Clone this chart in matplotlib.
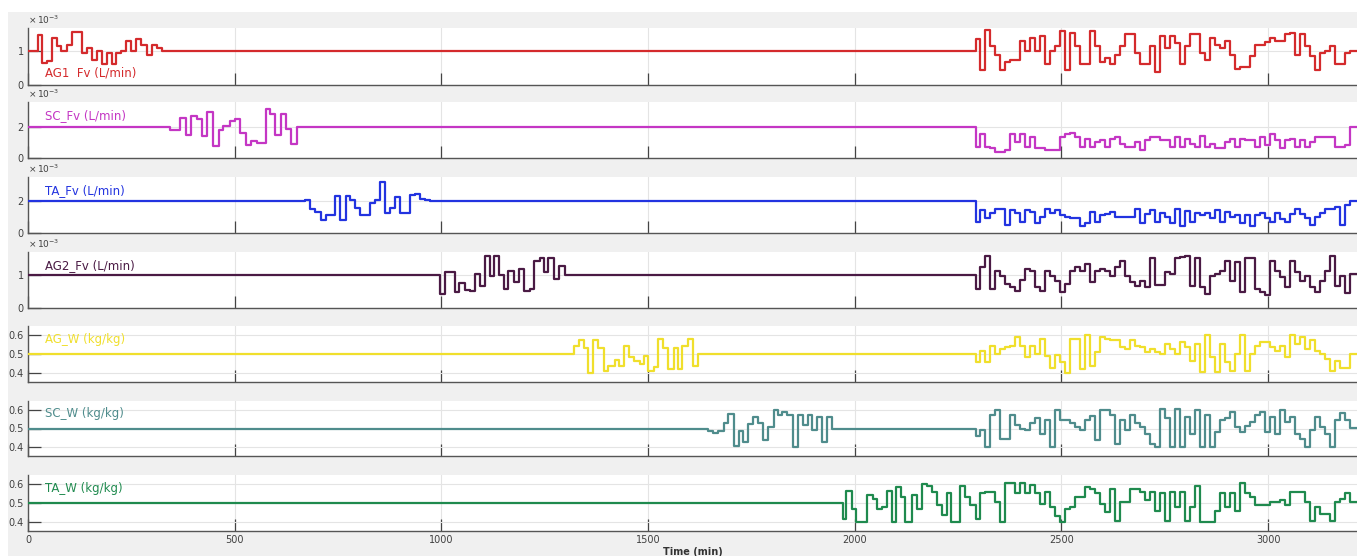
import matplotlib
matplotlib.use("Agg")
import matplotlib.pyplot as plt
from matplotlib.patches import Rectangle

# ---------------- data ----------------
T_END = 3215
x_ticks = [0, 500, 1000, 1500, 2000, 2500, 3000]

# shared switching times of the final perturbation window (min)
G2 = [2293, 2303, 2315, 2327, 2339, 2351, 2363, 2375, 2388, 2400, 2412, 2424, 2436,
      2448, 2460, 2472, 2484, 2496, 2509, 2521, 2533, 2545, 2557, 2569, 2581, 2593,
      2605, 2617, 2630, 2642, 2654, 2666, 2678, 2690, 2702, 2714, 2726, 2738, 2751,
      2763, 2775, 2787, 2799, 2811, 2823, 2835, 2847, 2859, 2871, 2884, 2896, 2908,
      2920, 2932, 2944, 2956, 2968, 2980, 2992, 3005, 3017, 3029, 3041, 3053, 3065,
      3077, 3089, 3101, 3113, 3126, 3138, 3150, 3162, 3174, 3186, 3198]

# AG1 Fv (x1e-3 L/min)
ag1_nom = 1.0
ag1_t1 = [23, 34, 46, 58, 69, 81, 94, 106, 130, 142, 154, 166, 178, 190, 202, 214,
          226, 238, 250, 262, 274, 287, 299, 311, 323]
ag1_v1 = [1.48, 0.67, 0.72, 1.41, 1.15, 1.0, 1.2, 1.59, 0.95, 1.1, 0.74, 1.0, 0.64,
          0.95, 0.62, 0.95, 1.0, 1.3, 1.0, 1.38, 1.2, 0.88, 1.2, 1.1, 1.0]
ag1_v2 = [1.38, 0.46, 1.64, 1.15, 0.90, 0.44, 0.69, 0.74, 0.74, 1.31, 1.0, 1.41, 1.0,
          1.46, 0.64, 1.0, 1.15, 1.61, 0.44, 1.56, 1.15, 0.64, 0.64, 1.61, 1.15, 0.69,
          0.8, 0.64, 0.9, 1.15, 1.51, 1.51, 0.95, 0.64, 0.64, 1.15, 0.39, 1.46, 1.1,
          1.46, 1.26, 0.64, 1.15, 1.51, 1.51, 0.95, 0.74, 1.41, 1.2, 1.1, 1.31, 0.9,
          0.49, 0.54, 0.54, 0.85, 1.2, 1.2, 1.28, 1.41, 1.31, 1.31, 1.51, 1.56, 0.9,
          1.51, 1.15, 0.85, 0.46, 0.95, 1.0, 1.15, 0.64, 0.62, 0.95, 1.0]

# SC Fv (x1e-3 L/min)
sc_nom = 2.0
sc_t1 = [344, 368, 382, 394, 408, 420, 432, 448, 461, 471, 489, 501, 513, 527, 539,
         553, 575, 586, 598, 613, 624, 637, 650]
sc_v1 = [1.83, 2.6, 1.47, 2.7, 2.5, 1.4, 2.95, 0.75, 1.8, 2.05, 2.4, 2.5, 1.6, 0.85,
         1.1, 0.95, 3.15, 2.8, 1.45, 2.8, 1.85, 0.9, 2.0]
sc_v2 = [0.72, 1.55, 0.72, 0.62, 0.41, 0.41, 0.52, 1.55, 1.03, 1.55, 0.72, 1.34, 0.62,
         0.62, 0.52, 0.52, 0.52, 1.34, 1.55, 1.59, 1.34, 0.72, 1.24, 0.72, 1.03, 1.13,
         0.72, 1.24, 1.34, 0.93, 0.72, 0.72, 1.03, 0.52, 1.13, 1.34, 1.34, 1.13, 1.13,
         0.72, 1.34, 0.72, 1.24, 0.93, 0.72, 1.44, 0.72, 0.93, 0.62, 0.62, 1.03, 1.24,
         0.72, 1.24, 1.13, 1.13, 0.72, 1.34, 0.82, 1.55, 1.13, 0.62, 1.13, 1.24, 0.72,
         1.13, 0.72, 1.03, 1.38, 1.38, 1.38, 1.38, 0.72, 0.72, 0.82, 2.0]

# TA Fv (x1e-3 L/min)
ta_nom = 2.0
ta_t1 = [670, 682, 694, 709, 721, 743, 755, 769, 779, 791, 803, 827, 839, 852, 864,
         876, 888, 900, 924, 936, 948, 960, 973]
ta_v1 = [2.08, 1.47, 1.33, 0.84, 1.12, 2.32, 0.84, 2.32, 2.06, 1.54, 1.12, 1.9, 2.06,
         3.16, 1.22, 1.54, 2.23, 1.26, 2.38, 2.44, 2.1, 2.06, 2.0]
ta_v2 = [0.71, 1.43, 0.92, 1.22, 1.47, 1.53, 0.51, 1.43, 1.22, 0.71, 1.43, 1.33, 0.61,
         1.02, 1.47, 1.27, 1.43, 1.12, 1.02, 0.92, 0.92, 0.45, 0.65, 1.33, 0.71, 1.12,
         1.18, 1.33, 0.98, 0.98, 0.98, 0.98, 1.53, 0.61, 1.18, 1.43, 0.71, 1.27, 0.98,
         0.61, 1.53, 0.45, 1.39, 0.71, 1.22, 1.12, 1.22, 0.92, 1.43, 0.71, 1.33, 1.02,
         1.12, 0.61, 1.12, 0.41, 1.12, 1.22, 0.92, 0.71, 1.22, 0.86, 0.71, 1.18, 1.53,
         1.18, 0.92, 0.51, 1.02, 1.22, 1.47, 1.53, 1.63, 0.51, 1.73, 2.0]

# AG2 Fv (x1e-3 L/min)
ag2_nom = 1.0
ag2_t1 = [996, 1009, 1019, 1033, 1043, 1056, 1069, 1082, 1093, 1105, 1117, 1128, 1140,
          1151, 1162, 1175, 1188, 1201, 1214, 1225, 1238, 1249, 1259, 1272, 1285, 1298]
ag2_v1 = [0.43, 1.08, 1.1, 0.48, 0.75, 0.55, 0.51, 1.03, 0.68, 1.58, 0.98, 1.58, 1.0,
          0.58, 1.13, 0.78, 1.18, 0.53, 0.58, 1.43, 1.53, 1.08, 1.53, 0.88, 1.28, 1.0]
ag2_v2 = [0.58, 1.25, 1.58, 0.58, 1.13, 0.98, 0.73, 0.65, 0.53, 0.85, 1.18, 1.13, 0.63,
          0.53, 1.13, 0.98, 0.83, 0.48, 0.73, 1.13, 1.25, 1.13, 1.33, 0.78, 1.13, 1.18,
          1.13, 0.98, 1.25, 1.43, 0.98, 0.78, 0.68, 0.83, 0.65, 1.53, 0.71, 0.71, 1.08,
          1.03, 1.53, 1.55, 1.58, 0.68, 1.53, 0.65, 0.43, 0.98, 1.03, 1.13, 1.43, 0.81,
          1.41, 0.48, 1.53, 1.53, 0.58, 0.48, 0.38, 1.43, 1.13, 0.93, 0.65, 1.43, 1.08,
          0.81, 0.98, 0.63, 0.48, 0.83, 1.13, 1.58, 0.68, 0.98, 0.45, 1.03]

# AG W (kg/kg)
agw_nom = 0.5
agw_t1 = [1320, 1333, 1346, 1354, 1367, 1378, 1393, 1404, 1419, 1430, 1442, 1454, 1467,
          1480, 1491, 1501, 1514, 1525, 1537, 1549, 1562, 1572, 1583, 1596, 1609, 1622]
agw_v1 = [0.542, 0.571, 0.53, 0.40, 0.571, 0.53, 0.41, 0.436, 0.47, 0.44, 0.539, 0.486,
          0.465, 0.447, 0.49, 0.41, 0.433, 0.58, 0.53, 0.424, 0.53, 0.424, 0.542, 0.58,
          0.44, 0.5]
agw_v2 = [0.456, 0.514, 0.456, 0.544, 0.5, 0.527, 0.535, 0.544, 0.588, 0.544, 0.482,
          0.544, 0.5, 0.58, 0.491, 0.429, 0.496, 0.456, 0.403, 0.58, 0.58, 0.42, 0.597,
          0.438, 0.509, 0.588, 0.58, 0.571, 0.571, 0.535, 0.527, 0.574, 0.544, 0.535,
          0.509, 0.527, 0.509, 0.5, 0.553, 0.527, 0.5, 0.562, 0.535, 0.465, 0.553, 0.408,
          0.597, 0.482, 0.408, 0.553, 0.456, 0.412, 0.5, 0.597, 0.412, 0.5, 0.544, 0.562,
          0.562, 0.535, 0.518, 0.544, 0.482, 0.597, 0.553, 0.588, 0.527, 0.571, 0.518,
          0.5, 0.473, 0.412, 0.465, 0.429, 0.429, 0.5]

# SC W (kg/kg)
scw_nom = 0.5
scw_t1 = [1644, 1657, 1670, 1683, 1693, 1707, 1719, 1730, 1741, 1753, 1765, 1778, 1791,
          1804, 1814, 1825, 1836, 1851, 1862, 1874, 1886, 1897, 1909, 1920, 1933, 1946]
scw_v1 = [0.488, 0.474, 0.488, 0.53, 0.579, 0.407, 0.488, 0.43, 0.526, 0.561, 0.53,
          0.439, 0.509, 0.6, 0.57, 0.588, 0.57, 0.404, 0.57, 0.518, 0.57, 0.491, 0.561,
          0.43, 0.561, 0.5]
scw_v2 = [0.459, 0.491, 0.405, 0.571, 0.595, 0.446, 0.446, 0.571, 0.518, 0.5, 0.491,
          0.527, 0.554, 0.473, 0.545, 0.405, 0.595, 0.545, 0.545, 0.527, 0.509, 0.491,
          0.545, 0.566, 0.438, 0.595, 0.595, 0.571, 0.416, 0.545, 0.491, 0.571, 0.527,
          0.509, 0.473, 0.42, 0.402, 0.602, 0.554, 0.405, 0.602, 0.405, 0.562, 0.473,
          0.595, 0.405, 0.571, 0.405, 0.482, 0.545, 0.554, 0.589, 0.509, 0.482, 0.513,
          0.536, 0.571, 0.589, 0.482, 0.562, 0.473, 0.598, 0.536, 0.559, 0.473, 0.446,
          0.405, 0.491, 0.562, 0.509, 0.473, 0.405, 0.545, 0.58, 0.545, 0.505]

# TA W (kg/kg)
taw_nom = 0.5
taw_t1 = [1972, 1980, 1993, 2003, 2030, 2045, 2053, 2065, 2077, 2089, 2100, 2111, 2122,
          2138, 2150, 2162, 2174, 2186, 2198, 2210, 2222, 2234, 2254, 2267, 2279]
taw_v1 = [0.416, 0.56, 0.47, 0.40, 0.54, 0.52, 0.47, 0.48, 0.56, 0.40, 0.585, 0.53,
          0.40, 0.54, 0.47, 0.60, 0.59, 0.555, 0.49, 0.44, 0.55, 0.40, 0.59, 0.53, 0.49]
taw_v2 = [0.417, 0.55, 0.558, 0.558, 0.505, 0.404, 0.606, 0.606, 0.553, 0.606, 0.55,
          0.594, 0.55, 0.496, 0.558, 0.479, 0.435, 0.404, 0.47, 0.479, 0.532, 0.532,
          0.585, 0.571, 0.55, 0.496, 0.452, 0.571, 0.408, 0.505, 0.505, 0.571, 0.571,
          0.558, 0.514, 0.558, 0.461, 0.55, 0.408, 0.558, 0.479, 0.558, 0.408, 0.479,
          0.588, 0.4, 0.4, 0.402, 0.461, 0.55, 0.479, 0.55, 0.461, 0.603, 0.55, 0.532,
          0.488, 0.488, 0.488, 0.505, 0.505, 0.518, 0.488, 0.558, 0.558, 0.558, 0.505,
          0.408, 0.479, 0.443, 0.443, 0.408, 0.505, 0.523, 0.55, 0.505]

labels = ["AG1  Fv (L/min)", "SC_Fv (L/min)", "TA_Fv (L/min)", "AG2_Fv (L/min)",
          "AG_W (kg/kg)", "SC_W (kg/kg)", "TA_W (kg/kg)"]
colors = ["#d42a2c", "#c436c4", "#2233e0", "#4a1a44", "#f0df2c", "#4f8c8c", "#1f8a4e"]

series = [
    (ag1_nom, ag1_t1, ag1_v1, ag1_v2),
    (sc_nom, sc_t1, sc_v1, sc_v2),
    (ta_nom, ta_t1, ta_v1, ta_v2),
    (ag2_nom, ag2_t1, ag2_v1, ag2_v2),
    (agw_nom, agw_t1, agw_v1, agw_v2),
    (scw_nom, scw_t1, scw_v1, scw_v2),
    (taw_nom, taw_t1, taw_v1, taw_v2),
]
ylims = [(0, 1.7), (0, 3.6), (0, 3.5), (0, 1.7),
         (0.355, 0.645), (0.355, 0.645), (0.355, 0.645)]
yticks = [[0, 1], [0, 2], [0, 2], [0, 1],
          [0.4, 0.5, 0.6], [0.4, 0.5, 0.6], [0.4, 0.5, 0.6]]
scaled = [True, True, True, True, False, False, False]

# ---------------- layout ----------------
W, H = 1357, 556
fig = plt.figure(figsize=(W / 100, H / 100), dpi=100)
fig.patch.set_facecolor("white")
fig.patches.append(Rectangle((8 / W, 0), 1 - 8 / W, (H - 12) / H,
                             transform=fig.transFigure, facecolor="#f0f0f0",
                             edgecolor="none", zorder=-10))

panel_px = [(28, 85), (102, 158), (177, 233), (252, 308),
            (326, 382), (401, 456), (475, 531)]
left_px = 28
label_y = [0.21, 0.75, 0.76, 0.76, 0.76, 0.77, 0.76]

tick_col = "#404040"
for i, (top, bot) in enumerate(panel_px):
    ax = fig.add_axes([left_px / W, 1 - bot / H, (W - left_px) / W, (bot - top) / H])
    ax.set_facecolor("white")
    nom, t1, v1, v2 = series[i]
    t = [0] + t1 + G2 + [T_END]
    v = [nom] + v1 + v2 + [v2[-1]]
    ax.step(t, v, where="post", color=colors[i], lw=1.6, zorder=3)
    ax.set_xlim(0, T_END)
    ax.set_ylim(*ylims[i])
    ax.set_xticks(x_ticks)
    ax.set_yticks(yticks[i])
    if scaled[i]:
        ax.set_yticklabels([str(int(y)) for y in yticks[i]])
        ax.text(0.0, 1.04, r"$\times\,10^{-3}$", transform=ax.transAxes,
                fontsize=6.5, color=tick_col, ha="left", va="bottom")
    else:
        ax.set_yticklabels([f"{y:.1f}" for y in yticks[i]])
    ax.grid(True, color="#e4e4e4", lw=0.8, zorder=0)
    for s in ["top", "right"]:
        ax.spines[s].set_visible(False)
    for s in ["left", "bottom"]:
        ax.spines[s].set_color("#555555")
        ax.spines[s].set_linewidth(1.0)
    ax.tick_params(direction="in", length=9, width=0.9, color="#444444",
                   labelsize=7, labelcolor=tick_col, pad=3)
    if i < len(panel_px) - 1:
        ax.tick_params(axis="x", labelbottom=False)
    else:
        ax.set_xlabel("Time (min)", fontsize=7, fontweight="bold", color="#333333",
                      labelpad=1)
    ax.text(0.0128, label_y[i], labels[i], transform=ax.transAxes, color=colors[i],
            fontsize=8.5, ha="left", va="center", zorder=4)

fig.savefig("out.png", dpi=100, facecolor=fig.get_facecolor())
